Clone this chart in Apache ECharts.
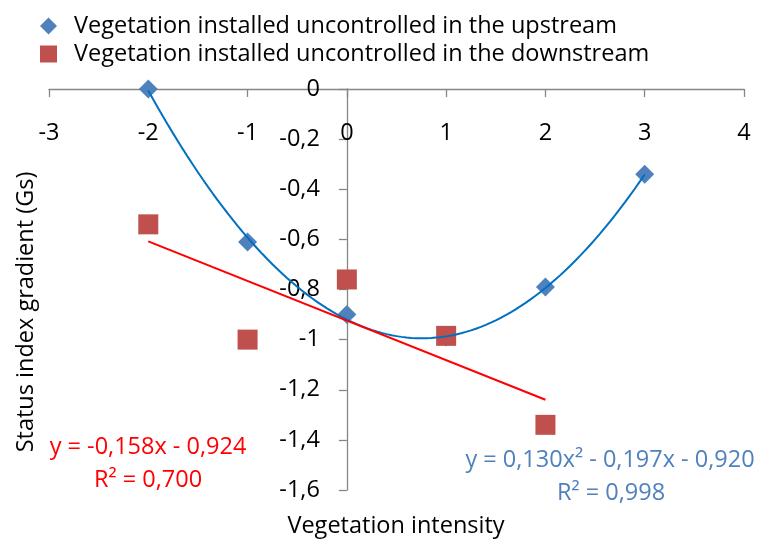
<!DOCTYPE html>
<html>
<head>
<meta charset="utf-8">
<script src="https://cdn.jsdelivr.net/npm/echarts@6/dist/echarts.min.js"></script>
<style>
  html, body { margin: 0; padding: 0; background: #fff; }
  #chart { width: 761px; height: 540px; }
</style>
</head>
<body>
<div id="chart"></div>
<script>
// Vegetation intensity (x) and status index gradient (y) observations
const upstreamX = [-2, -1, 0, 1, 2, 3];
const upstreamY = [0, -0.61, -0.90, -0.99, -0.79, -0.34];
const downstreamX = [-2, -1, 0, 1, 2];
const downstreamY = [-0.54, -1.00, -0.76, -0.985, -1.34];

// Fitted trendline coefficients (highest power first)
const upstreamFit = [0.130, -0.197, -0.920];   // quadratic
const downstreamFit = [-0.158, -0.924];        // linear
const upstreamR2 = 0.998;
const downstreamR2 = 0.700;

const legendNames = [
  'Vegetation installed uncontrolled in the upstream',
  'Vegetation installed uncontrolled in the downstream'
];
const xTitle = 'Vegetation intensity';
const yTitle = 'Status index gradient (Gs)';

const FONT = "'Open Sans', 'Noto Sans', sans-serif";
const FS = 23.5;

function polyVal(c, x) {
  return c.reduce((acc, k) => acc * x + k, 0);
}
function sampleFit(c, x0, x1, steps) {
  const pts = [];
  for (let i = 0; i <= steps; i++) {
    const x = x0 + (x1 - x0) * i / steps;
    pts.push([x, polyVal(c, x)]);
  }
  return pts;
}
// Decimal comma, three places
const dec = v => Math.abs(v).toFixed(3).replace('.', ',');
const sgn = v => (v < 0 ? ' - ' : ' + ');

const upPts = upstreamX.map((x, i) => [x, upstreamY[i]]);
const downPts = downstreamX.map((x, i) => [x, downstreamY[i]]);
const upCurve = sampleFit(upstreamFit, Math.min(...upstreamX), Math.max(...upstreamX), 100);
const downLine = sampleFit(downstreamFit, Math.min(...downstreamX), Math.max(...downstreamX), 1);

const upEq = 'y = ' + (upstreamFit[0] < 0 ? '-' : '') + dec(upstreamFit[0]) + 'x²' +
  sgn(upstreamFit[1]) + dec(upstreamFit[1]) + 'x' + sgn(upstreamFit[2]) + dec(upstreamFit[2]);
const downEq = 'y = ' + (downstreamFit[0] < 0 ? '-' : '') + dec(downstreamFit[0]) + 'x' +
  sgn(downstreamFit[1]) + dec(downstreamFit[1]);

const chart = echarts.init(document.getElementById('chart'));
const axisGray = '#868686';

// Plot area: x from -3 to 4, y from -1.6 to 0
const GRID = { left: 49, right: 17, top: 89, bottom: 50 };
const plotW = 761 - GRID.left - GRID.right;
const xMin = -3, xMax = 4;
// the vertical axis crosses at x = 0
const yAxisOffset = -plotW * (0 - xMin) / (xMax - xMin);

chart.setOption({
  animation: false,
  textStyle: { fontFamily: FONT },
  legend: {
    orient: 'vertical',
    left: 35, top: 9,
    itemWidth: 17, itemHeight: 17,
    itemGap: 4,
    textStyle: { fontFamily: FONT, fontSize: FS, color: '#000', padding: [0, 0, 0, 12] },
    data: [
      { name: legendNames[0], icon: 'diamond', itemStyle: { color: '#4F81BD', opacity: 1 } },
      { name: legendNames[1], icon: 'rect', itemStyle: { color: '#C0504D', opacity: 1 } }
    ]
  },
  grid: Object.assign({ containLabel: false, outerBoundsMode: 'none' }, GRID),
  xAxis: {
    type: 'value', min: xMin, max: xMax, interval: 1,
    position: 'top',
    axisLine: { onZero: false, lineStyle: { color: axisGray, width: 1.3 } },
    axisTick: { show: true, inside: true, length: 8, lineStyle: { color: axisGray, width: 1.3 } },
    axisLabel: { inside: true, margin: 32, fontFamily: FONT, fontSize: FS, color: '#000' },
    splitLine: { show: false }
  },
  yAxis: {
    type: 'value', min: -1.6, max: 0, interval: 0.2,
    position: 'left',
    offset: yAxisOffset,
    axisLine: { show: true, onZero: false, lineStyle: { color: axisGray, width: 1.3 } },
    axisTick: { show: true, inside: false, length: 8, lineStyle: { color: axisGray, width: 1.3 } },
    axisLabel: {
      margin: 27, fontFamily: FONT, fontSize: FS, color: '#000',
      formatter: v => (Math.abs(v) < 1e-9 ? '0' : String(+v.toFixed(1)).replace('.', ','))
    },
    splitLine: { show: false }
  },
  series: [
    {
      name: legendNames[0], type: 'scatter', data: upPts,
      symbol: 'diamond', symbolSize: [19, 19],
      itemStyle: { color: '#4F81BD', opacity: 1 }, z: 2
    },
    {
      name: legendNames[1], type: 'scatter', data: downPts,
      symbol: 'rect', symbolSize: 20,
      itemStyle: { color: '#C0504D', opacity: 1 }, z: 3
    },
    {
      type: 'line', data: upCurve, showSymbol: false, symbol: 'none',
      lineStyle: { color: '#0070C0', width: 2 }, z: 4, silent: true
    },
    {
      type: 'line', data: downLine, showSymbol: false, symbol: 'none',
      lineStyle: { color: '#FF0000', width: 2 }, z: 5, silent: true
    }
  ],
  graphic: [
    {
      type: 'text', x: 396, y: 526,
      style: { text: xTitle, font: FS + 'px ' + FONT, fill: '#000', align: 'center', verticalAlign: 'middle' }
    },
    {
      type: 'text', x: 26, y: 312, rotation: Math.PI / 2,
      style: { text: yTitle, font: FS + 'px ' + FONT, fill: '#000', align: 'center', verticalAlign: 'middle' }
    },
    {
      type: 'text', x: 148, y: 447,
      style: { text: downEq, font: FS + 'px ' + FONT, fill: '#FF0000', align: 'center', verticalAlign: 'middle' }
    },
    {
      type: 'text', x: 148, y: 480,
      style: { text: 'R² = ' + dec(downstreamR2), font: FS + 'px ' + FONT, fill: '#FF0000', align: 'center', verticalAlign: 'middle' }
    },
    {
      type: 'text', x: 610, y: 460,
      style: { text: upEq, font: FS + 'px ' + FONT, fill: '#4F81BD', align: 'center', verticalAlign: 'middle' }
    },
    {
      type: 'text', x: 611, y: 493,
      style: { text: 'R² = ' + dec(upstreamR2), font: FS + 'px ' + FONT, fill: '#4F81BD', align: 'center', verticalAlign: 'middle' }
    }
  ]
});
</script>
</body>
</html>
